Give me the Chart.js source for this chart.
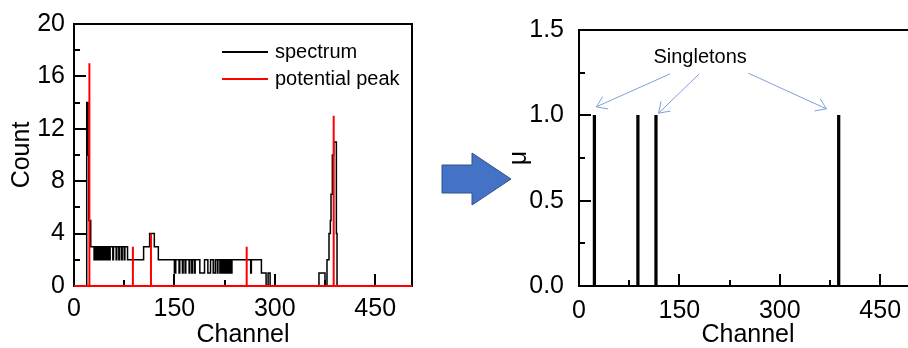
<!DOCTYPE html>
<html><head><meta charset="utf-8">
<script src="https://cdn.jsdelivr.net/npm/chart.js@4.4.0/dist/chart.umd.min.js"></script>
<style>
html,body{margin:0;padding:0;background:#fff;overflow:hidden;width:908px;height:348px;}
#c1{position:absolute;left:0;top:0;}
#c2{position:absolute;left:430px;top:0;}
#bigArrow{position:absolute;left:0;top:0;pointer-events:none;}
</style></head><body>
<canvas id="c1" width="420" height="348"></canvas>
<canvas id="c2" width="500" height="348"></canvas>
<svg id="bigArrow" width="908" height="348">
<polygon points="442,165 472,165 472,153 511,179 472,205 472,193 442,193" fill="#4472C4" stroke="#2F528F" stroke-width="1"/>
</svg>
<script>
// ---- data ----
const specChannels = [0,19,21,22,25,
 30,31,32,33,34,35,36,38,39,40,41,42,43,44,45,47,48,49,50,51,
 52,54,58,59,63,64,67,68,71,72,75,76,80,
 104,113,120,126,
 150,152,157,158,162,163,166,167,172,173,176,177,180,181,
 188,195,200,204,208,211,214,215,218,219,220,221,222,223,224,225,226,227,228,229,230,231,232,233,234,236,
 264,265,280,287,290,293,
 366,375,378,381,383,384,386,388,392,393,505];
const specCounts = [0,14,10,5,3,
 2,3,2,3,2,3,2,3,2,3,2,3,2,3,2,3,2,3,2,3,
 2,3,2,3,2,3,2,3,2,3,2,3,2,
 3,4,3,2,
 1,2,1,2,1,2,1,2,1,2,1,2,1,2,
 1,2,1,2,1,2,1,2,1,2,1,2,1,2,1,2,1,2,1,2,1,2,1,2,1,2,
 1,2,1,0,1,0,
 1,0,2,4,5,7,10,11,4,0,0];
const peakChannels = [23, 88, 115, 258, 388];
const peakCounts = [17, 3, 4, 3, 13];
const singletonChannels = [23, 88, 115, 388];
const singletonMu = [1, 1, 1, 1];
const channelTicks = [0, 150, 300, 450];
const countTicks = [0, 4, 8, 12, 16, 20];
const muTicks = [0, 0.5, 1.0, 1.5];
const channelMax = 505;
const countMax = 20;
const muMax = 1.5;

Chart.defaults.font.family = "'Liberation Sans', Arial, sans-serif";
Chart.defaults.color = '#000';

const specPoints = specChannels.map((c, i) => ({x: c, y: specCounts[i]}));
const peakPoints = [{x: 0, y: 0}];
peakChannels.forEach((c, i) => { peakPoints.push({x: c, y: 0}, {x: c, y: peakCounts[i]}, {x: c, y: 0}); });
peakPoints.push({x: channelMax, y: 0});
const singletonPoints = singletonChannels.map((c, i) => ({x: c, y: singletonMu[i]}));

// inward major/minor tick marks drawn from the scales
const inwardTicks = {
  id: 'inwardTicks',
  beforeDatasetsDraw(chart, args, o) {
    const {ctx, chartArea: a} = chart;
    ctx.save(); ctx.strokeStyle = '#000'; ctx.lineWidth = 2; ctx.lineCap = 'butt';
    for (const id of ['x', 'y']) {
      const s = chart.scales[id];
      const vals = s.ticks.map(t => t.value);
      const marks = [];
      vals.forEach((v, i) => {
        marks.push([v, o.major]);
        const step = i + 1 < vals.length ? vals[i + 1] - v : v - vals[i - 1];
        const m = v + step / 2;
        if (m <= s.max) marks.push([m, o.minor]);
      });
      for (const [v, len] of marks) {
        const p = Math.round(s.getPixelForValue(v));
        ctx.beginPath();
        if (s.isHorizontal()) { ctx.moveTo(p, a.bottom); ctx.lineTo(p, a.bottom - len); }
        else { ctx.moveTo(a.left, p); ctx.lineTo(a.left + len, p); }
        ctx.stroke();
      }
    }
    ctx.restore();
  }
};

const insideLegend = {
  id: 'insideLegend',
  afterDraw(chart, args, o) {
    const {ctx, chartArea: a} = chart;
    ctx.save();
    chart.data.datasets.forEach((ds, i) => {
      const y = a.top + o.top + i * o.gap;
      const x = a.right - o.right;
      ctx.strokeStyle = ds.borderColor; ctx.lineWidth = 2;
      ctx.beginPath(); ctx.moveTo(x, y); ctx.lineTo(x + o.line, y); ctx.stroke();
      ctx.fillStyle = '#000'; ctx.font = o.font; ctx.textBaseline = 'middle'; ctx.textAlign = 'left';
      ctx.fillText(ds.label, x + o.line + o.textGap, y);
    });
    ctx.restore();
  }
};

const singletonNotes = {
  id: 'singletonNotes',
  afterDatasetsDraw(chart, args, o) {
    const {ctx} = chart; const xs = chart.scales.x, ys = chart.scales.y;
    ctx.save();
    ctx.font = o.font; ctx.fillStyle = '#000'; ctx.textAlign = 'center'; ctx.textBaseline = 'middle';
    ctx.fillText(o.text, xs.getPixelForValue(o.at[0]), ys.getPixelForValue(o.at[1]));
    ctx.strokeStyle = o.color; ctx.lineWidth = 1;
    o.arrows.forEach(([x0, y0, x1, y1]) => {
      const px0 = xs.getPixelForValue(x0), py0 = ys.getPixelForValue(y0);
      const px1 = xs.getPixelForValue(x1), py1 = ys.getPixelForValue(y1);
      ctx.beginPath(); ctx.moveTo(px0, py0); ctx.lineTo(px1, py1);
      const ang = Math.atan2(py1 - py0, px1 - px0);
      for (const d of [-1, 1]) {
        ctx.moveTo(px1, py1);
        ctx.lineTo(px1 - o.head * Math.cos(ang + d * o.headAngle), py1 - o.head * Math.sin(ang + d * o.headAngle));
      }
      ctx.stroke();
    });
    ctx.restore();
  }
};

const frameAxis = (pos, max, axis) => ({
  type: 'linear', axis: axis, position: pos, min: 0, max: max,
  ticks: {display: false}, grid: {display: false, drawTicks: false},
  border: {display: true, color: '#000', width: 2},
  afterFit(s) { if (axis === 'x') s.height = 0; else s.width = 0; }
});

new Chart(document.getElementById('c1'), {
  type: 'line',
  data: {datasets: [
    {label: 'spectrum', data: specPoints, xAxisID: 'x', yAxisID: 'y', borderColor: '#000', borderWidth: 1.5,
     stepped: true, pointRadius: 0, order: 1, clip: 4},
    {label: 'potential peak', data: peakPoints, xAxisID: 'x', yAxisID: 'y', borderColor: '#ff0000', borderWidth: 2,
     pointRadius: 0, tension: 0, order: 0, clip: 4}
  ]},
  options: {
    responsive: false, animation: false, devicePixelRatio: 1,
    layout: {padding: {top: 24, right: 8, left: 0, bottom: 0}},
    plugins: {legend: {display: false}, tooltip: {enabled: false},
      inwardTicks: {major: 12, minor: 6},
      insideLegend: {top: 28, gap: 27, right: 190, line: 46, textGap: 7, font: "20px 'Liberation Sans', Arial, sans-serif"}},
    scales: {
      x: {type: 'linear', position: 'bottom', min: 0, max: channelMax,
        afterBuildTicks(s) { s.ticks = channelTicks.map(v => ({value: v})); },
        ticks: {padding: 8, font: {size: 25}, maxRotation: 0},
        grid: {display: false, drawTicks: false}, border: {display: true, color: '#000', width: 2},
        title: {display: true, text: 'Channel', font: {size: 25, lineHeight: 1}, padding: {top: 0, bottom: 0}},
        afterFit(s) { s.height = 62; }},
      y: {type: 'linear', position: 'left', min: 0, max: countMax,
        afterBuildTicks(s) { s.ticks = countTicks.map(v => ({value: v})); },
        ticks: {padding: 9, font: {size: 25}},
        grid: {display: false, drawTicks: false}, border: {display: true, color: '#000', width: 2},
        title: {display: true, text: 'Count', font: {size: 25, lineHeight: 1}, padding: {top: 10, bottom: 0}},
        afterFit(s) { s.width = 74; }},
      xTop: frameAxis('top', channelMax, 'x'),
      yRight: frameAxis('right', countMax, 'y')
    }
  },
  plugins: [inwardTicks, insideLegend]
});

new Chart(document.getElementById('c2'), {
  type: 'bar',
  data: {datasets: [
    {label: 'μ', data: singletonPoints, xAxisID: 'x', yAxisID: 'y', backgroundColor: '#000', borderWidth: 0, barThickness: 2.6}
  ]},
  options: {
    responsive: false, animation: false, devicePixelRatio: 1,
    layout: {padding: {top: 24, right: 13, left: 0, bottom: 0}},
    plugins: {legend: {display: false}, tooltip: {enabled: false},
      inwardTicks: {major: 12, minor: 6},
      singletonNotes: {text: 'Singletons', at: [181, 1.34], font: "20px 'Liberation Sans', Arial, sans-serif",
        color: '#7f9fd8', head: 12, headAngle: 0.6,
        arrows: [[136, 1.243, 26, 1.05], [179.6, 1.243, 119, 1.013], [253, 1.247, 369.6, 1.038]]}},
    scales: {
      x: {type: 'linear', position: 'bottom', offset: false, min: 0, max: channelMax,
        afterBuildTicks(s) { s.ticks = channelTicks.map(v => ({value: v})); },
        ticks: {padding: 10, font: {size: 25}, maxRotation: 0},
        grid: {display: false, offset: false, drawTicks: false}, border: {display: true, color: '#000', width: 2},
        title: {display: true, text: 'Channel', font: {size: 25, lineHeight: 1}, padding: {top: 0, bottom: 0}},
        afterFit(s) { s.height = 62; }},
      y: {type: 'linear', position: 'left', min: 0, max: muMax,
        afterBuildTicks(s) { s.ticks = muTicks.map(v => ({value: v})); },
        ticks: {padding: 15, font: {size: 25}, callback: v => Number(v).toFixed(1)},
        grid: {display: false, drawTicks: false}, border: {display: true, color: '#000', width: 2},
        title: {display: true, text: 'μ', font: {size: 25, lineHeight: 1}, padding: {top: 77, bottom: 0}},
        afterFit(s) { s.width = 149; }},
      xTop: frameAxis('top', channelMax, 'x'),
      yRight: frameAxis('right', muMax, 'y')
    }
  },
  plugins: [inwardTicks, singletonNotes]
});
</script>
</body></html>
